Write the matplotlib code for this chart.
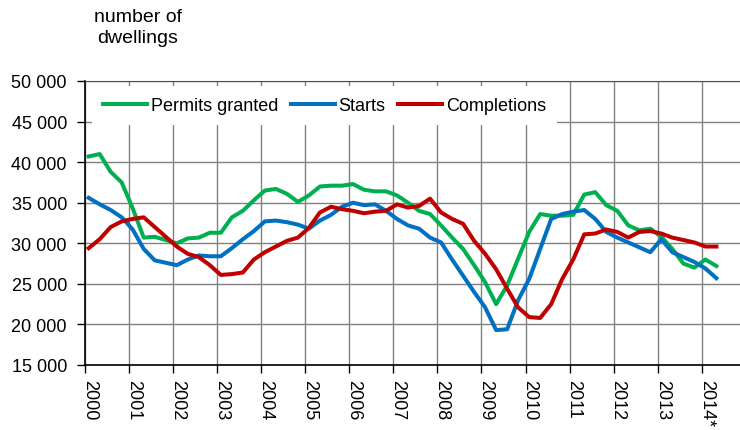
import numpy as np
import matplotlib.pyplot as plt
from matplotlib.ticker import FuncFormatter, MultipleLocator

plt.rcParams['font.family'] = ['Liberation Sans', 'DejaVu Sans']

# quarterly values, 2000Q1 .. 2014Q2
quarters = np.arange(2000, 2014.5, 0.25)
permits = [40700, 41000, 38800, 37500, 34300, 30700, 30800, 30400, 30000, 30600,
           30700, 31300, 31300, 33200, 34000, 35300, 36500, 36700, 36100, 35100,
           35900, 37000, 37100, 37100, 37300, 36600, 36400, 36400, 35900, 35000,
           34000, 33600, 32200, 30700, 29300, 27300, 25200, 22500, 24800, 28100,
           31400, 33600, 33400, 33400, 33500, 36000, 36300, 34700, 34000, 32200,
           31600, 31800, 30800, 29300, 27500, 27000, 28000, 27200]
starts = [35600, 34800, 34100, 33200, 31700, 29300, 27900, 27600, 27300, 28000,
          28500, 28400, 28400, 29400, 30500, 31500, 32700, 32800, 32600, 32300,
          31800, 32800, 33500, 34500, 35000, 34700, 34800, 34000, 33000, 32200,
          31800, 30700, 30100, 28000, 26000, 24000, 22100, 19300, 19400, 23000,
          25600, 29300, 33000, 33600, 33900, 34100, 33000, 31400, 30700, 30100,
          29500, 28900, 30500, 28900, 28300, 27700, 26900, 25700]
completions = [29400, 30500, 32000, 32700, 33000, 33200, 32000, 30800, 29600, 28700,
               28300, 27300, 26100, 26200, 26400, 28000, 28900, 29600, 30300, 30700,
               31900, 33800, 34500, 34200, 34000, 33700, 33900, 34000, 34800, 34400,
               34600, 35500, 33800, 33000, 32400, 30300, 28700, 26800, 24400, 22100,
               20900, 20800, 22500, 25600, 28000, 31100, 31200, 31700, 31400, 30700,
               31400, 31500, 31200, 30700, 30400, 30100, 29600, 29600]
years = list(range(2000, 2015))
year_labels = [str(y) for y in years[:-1]] + ['2014*']

fig = plt.figure(figsize=(7.4, 4.31), dpi=100)
ax = fig.add_axes([85/740, 65/431, 655/740, 284/431])

x = quarters + 1/12
ax.plot(x, permits, color='#00b050', lw=2.9, label='Permits granted', zorder=3)
ax.plot(x, starts, color='#0070c0', lw=2.9, label='Starts', zorder=3)
ax.plot(x, completions, color='#c00000', lw=2.9, label='Completions', zorder=3)

ax.set_xlim(2000, 2000 + 655/44.05)
ax.set_ylim(15000, 50000)
ax.yaxis.set_major_locator(MultipleLocator(5000))
ax.yaxis.set_major_formatter(FuncFormatter(lambda v, p: f'{v:,.0f}'.replace(',', ' ')))
ax.set_xticks(years)
ax.set_xticklabels(year_labels, rotation=270, rotation_mode='anchor',
                   ha='left', va='baseline')

ax.set_axisbelow(True)
ax.grid(True, color='#808080', lw=1.0)
ax.spines['right'].set_visible(False)
ax.spines['top'].set_color('#505050')
ax.spines['left'].set_linewidth(1.2)
ax.spines['bottom'].set_linewidth(1.2)
ax.tick_params(axis='both', labelsize=13, direction='out', length=6, width=1)
ax.tick_params(axis='y', pad=7)
ax.tick_params(axis='x', pad=4)

leg = ax.legend(loc='upper left', bbox_to_anchor=(0.0107, 0.982), borderaxespad=0,
                ncol=3, fontsize=13, handlelength=2.45, handletextpad=0.2,
                columnspacing=0.7, borderpad=0.6, frameon=True, fancybox=False)
leg.get_frame().set_facecolor('white')
leg.get_frame().set_edgecolor('none')
leg.get_frame().set_alpha(1)

fig.text(138/740, 1 - 9/431, 'number of\ndwellings', ha='center', va='top',
         fontsize=14, multialignment='center', linespacing=1.3)

plt.savefig('out.png', dpi=100)
